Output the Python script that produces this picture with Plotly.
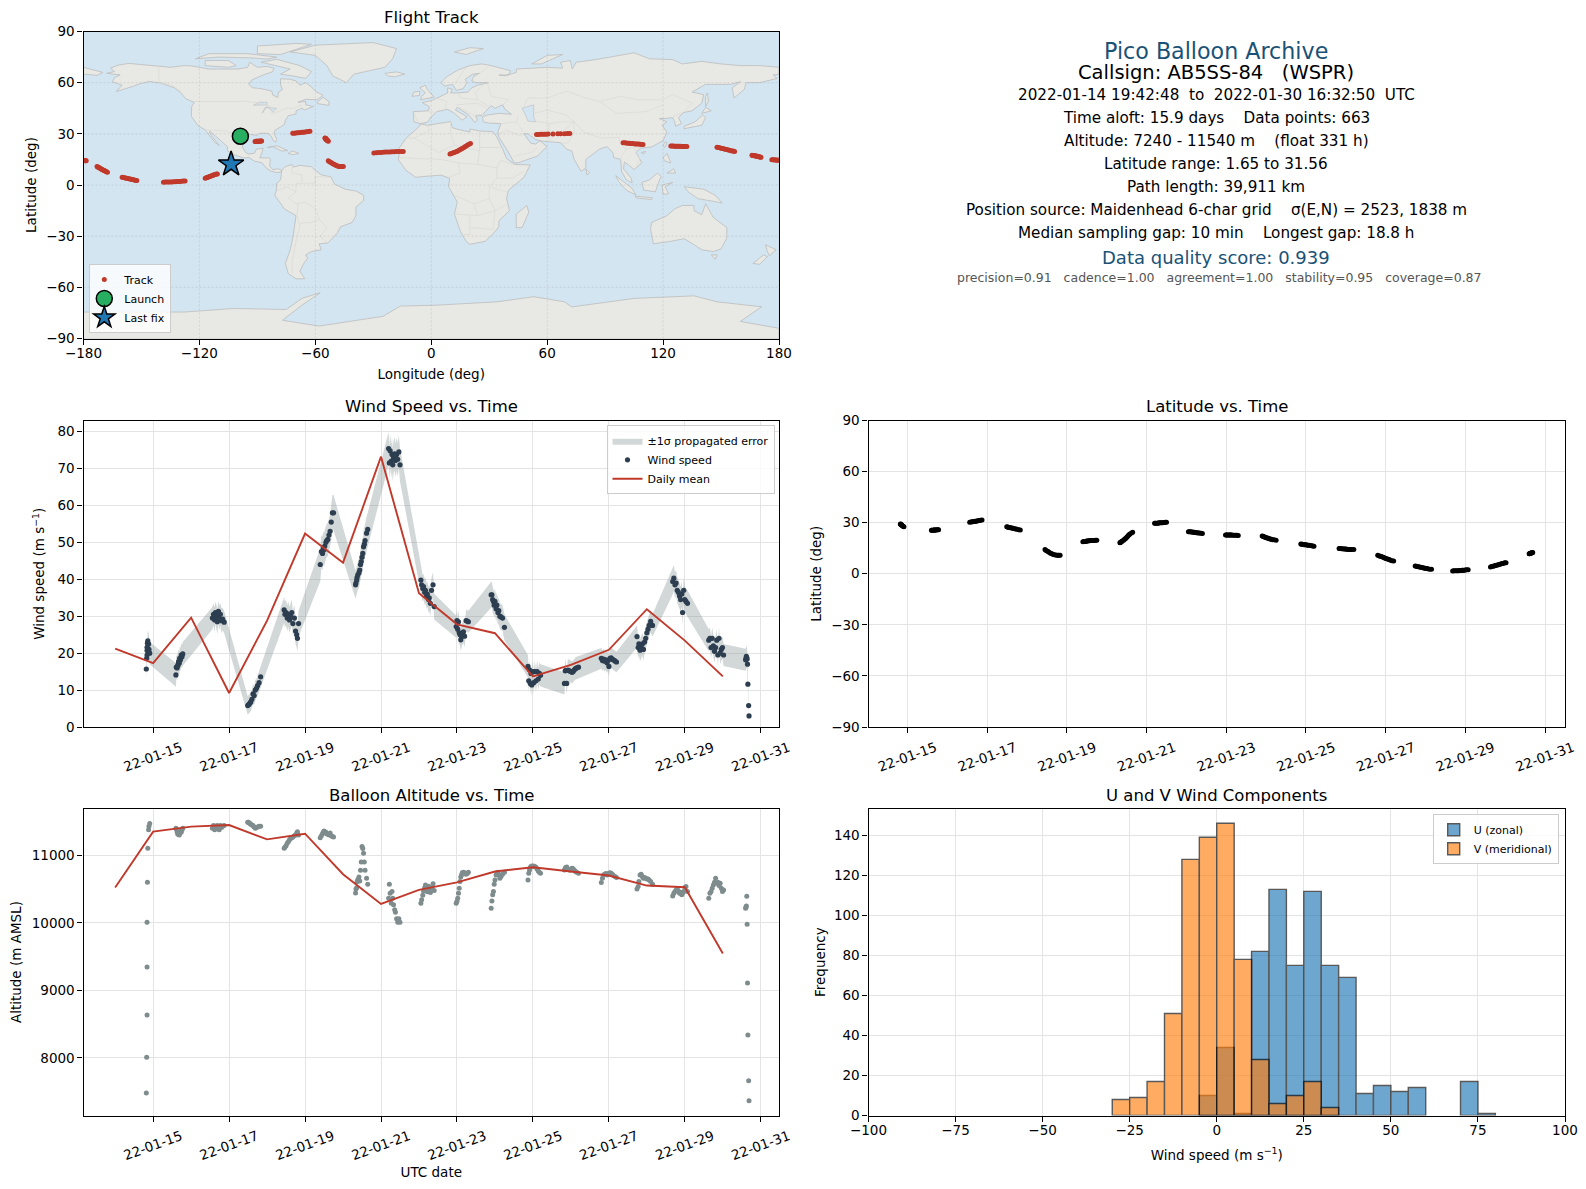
import pandas as pd
import plotly.graph_objects as go

# ---------- flight samples, one line per daily cluster (day of January 2022, decimal) ----------
flight_day = [
    14.82, 14.83, 14.84, 14.84, 14.84, 14.85, 14.86, 14.88, 14.89, 14.91,
    15.60, 15.61, 15.63, 15.65, 15.66, 15.67, 15.69, 15.70, 15.72, 15.74, 15.76, 15.78,
    16.56, 16.59, 16.62, 16.64, 16.67, 16.69, 16.72, 16.74, 16.77, 16.80, 16.83, 16.87,
    17.49, 17.51, 17.53, 17.55, 17.57, 17.60, 17.63, 17.66, 17.69, 17.72, 17.75, 17.79, 17.83,
    18.45, 18.47, 18.50, 18.53, 18.56, 18.59, 18.62, 18.65, 18.68, 18.72, 18.75, 18.78, 18.80, 18.83,
    19.40, 19.43, 19.46, 19.48, 19.50, 19.52, 19.55, 19.57, 19.60, 19.63, 19.66, 19.69, 19.72, 19.75,
    20.33, 20.34, 20.36, 20.37, 20.39, 20.42, 20.44, 20.46, 20.48, 20.50, 20.52, 20.54, 20.56, 20.58, 20.62, 20.65,
    21.20, 21.22, 21.24, 21.27, 21.29, 21.31, 21.33, 21.36, 21.38, 21.41, 21.44, 21.47, 21.50,
    22.05, 22.07, 22.10, 22.12, 22.15, 22.17, 22.20, 22.22, 22.25, 22.27, 22.30, 22.33, 22.37, 22.40,
    22.98, 23.00, 23.02, 23.04, 23.06, 23.08, 23.10, 23.12, 23.14, 23.17, 23.20, 23.24, 23.27, 23.30,
    23.90, 23.92, 23.94, 23.96, 23.98, 24.00, 24.03, 24.05, 24.08, 24.10, 24.13, 24.16, 24.20, 24.25,
    24.87, 24.89, 24.91, 24.93, 24.95, 24.97, 25.00, 25.02, 25.05, 25.08, 25.11, 25.14, 25.17, 25.20,
    25.83, 25.85, 25.86, 25.89, 25.92, 25.95, 25.98, 26.00, 26.03, 26.06, 26.09, 26.12, 26.15, 26.20,
    26.80, 26.83, 26.86, 26.89, 26.92, 26.95, 26.98, 27.00, 27.03, 27.06, 27.09, 27.12, 27.16, 27.20,
    27.74, 27.77, 27.79, 27.82, 27.85, 27.88, 27.91, 27.94, 27.97, 28.00, 28.03, 28.06, 28.10, 28.15,
    28.68, 28.71, 28.74, 28.77, 28.80, 28.83, 28.86, 28.89, 28.92, 28.94, 28.97, 29.00, 29.03, 29.07,
    29.63, 29.66, 29.69, 29.72, 29.75, 29.78, 29.81, 29.84, 29.87, 29.90, 29.93, 29.96, 29.99, 30.02,
    30.60, 30.61, 30.62, 30.63, 30.64, 30.65, 30.66, 30.68, 30.69,
]
wind_speed = [
    15.7, 18.6, 19.5, 20.7, 21.6, 22.7, 23.3, 22.5, 21.0, 20.0,
    14.1, 16.2, 16.0, 16.6, 17.0, 17.7, 17.3, 18.6, 18.2, 19.5, 19.0, 19.8,
    29.5, 30.5, 29.0, 31.0, 30.0, 28.5, 31.3, 29.5, 30.5, 28.8, 29.2, 28.4,
    5.8, 6.0, 6.2, 6.5, 6.8, 7.5, 9.0, 8.5, 10.0, 10.5, 11.2, 12.0, 13.6,
    31.7, 30.5, 31.0, 29.5, 30.5, 29.0, 30.0, 31.0, 28.0, 29.5, 26.0, 25.0, 24.0, 28.0,
    44.0, 47.5, 47.0, 48.5, 48.0, 49.0, 50.0, 50.5, 50.8, 52.0, 53.0, 55.5, 58.0, 58.0,
    38.5, 39.0, 39.8, 40.5, 41.2, 41.8, 42.5, 44.0, 44.8, 46.0, 47.0, 48.8, 49.5, 50.5, 52.5, 53.5,
    75.4, 71.5, 74.8, 72.0, 73.8, 71.0, 73.0, 74.0, 72.2, 73.8, 72.5, 74.5, 71.0,
    39.8, 38.5, 37.5, 38.0, 36.5, 37.0, 35.5, 36.0, 34.5, 35.0, 33.5, 37.0, 38.5, 32.6,
    27.2, 28.8, 26.5, 28.5, 25.5, 25.0, 23.6, 24.5, 25.2, 25.8, 24.6, 28.8, 28.7, 28.5,
    35.8, 35.8, 34.5, 34.0, 33.0, 34.0, 32.0, 33.0, 31.0, 31.5, 30.0, 29.8, 29.5, 27.0,
    16.4, 12.5, 15.5, 11.8, 14.5, 11.4, 15.0, 12.0, 15.0, 12.5, 15.0, 13.0, 14.5, 14.0,
    11.8, 15.2, 15.3, 11.8, 15.4, 15.3, 15.1, 15.0, 14.8, 15.0, 15.5, 15.8, 16.0, 16.2,
    18.6, 18.0, 18.4, 17.8, 18.2, 17.4, 18.0, 16.4, 18.6, 18.7, 18.3, 18.2, 17.9, 17.6,
    24.5, 21.5, 22.5, 20.8, 21.5, 22.5, 21.0, 23.0, 24.0, 25.5, 26.5, 27.5, 28.6, 27.5,
    39.4, 40.3, 38.5, 39.0, 37.0, 36.5, 35.5, 34.5, 36.0, 31.0, 37.0, 34.5, 34.0, 33.5,
    23.5, 24.0, 21.5, 24.0, 22.0, 20.5, 21.5, 23.5, 19.5, 24.0, 20.0, 21.0, 21.5, 19.5,
    18.2, 18.5, 19.1, 18.8, 18.4, 17.0, 11.6, 5.8, 3.0,
]
wind_sigma = [
    3.0, 3.0, 3.0, 3.0, 3.0, 3.0, 3.0, 3.0, 3.0, 3.0,
    3.2, 3.2, 3.2, 3.2, 3.2, 3.2, 3.2, 3.2, 3.2, 3.2, 3.2, 3.2,
    3.0, 3.0, 3.4, 3.0, 3.0, 3.4, 3.0, 3.4, 3.0, 3.4, 3.0, 3.0,
    2.5, 2.5, 2.5, 2.5, 2.5, 2.5, 2.8, 2.5, 2.8, 2.5, 2.8, 2.8, 2.8,
    3.5, 3.5, 3.5, 3.5, 3.5, 3.5, 3.5, 3.5, 3.5, 3.5, 3.5, 3.5, 3.5, 3.5,
    4.5, 4.5, 4.5, 4.5, 4.5, 4.5, 4.5, 4.5, 4.5, 4.5, 4.5, 4.8, 4.8, 4.8,
    3.8, 3.8, 3.8, 3.8, 4.0, 4.0, 4.0, 4.2, 4.2, 4.2, 4.2, 4.4, 4.4, 4.4, 4.5, 4.5,
    4.5, 4.5, 4.5, 4.5, 4.5, 4.5, 4.5, 4.5, 4.5, 4.5, 4.5, 4.5, 4.5,
    3.5, 3.5, 3.5, 3.5, 3.5, 3.5, 3.5, 3.5, 3.5, 3.5, 3.5, 3.5, 3.5, 3.5,
    3.0, 3.0, 3.0, 3.0, 3.0, 3.0, 3.0, 3.0, 3.0, 3.0, 3.0, 3.0, 3.0, 3.0,
    3.5, 3.5, 3.5, 3.5, 3.5, 3.5, 3.5, 3.5, 3.5, 3.5, 3.5, 3.5, 3.5, 3.5,
    3.0, 3.0, 3.0, 3.0, 3.0, 3.0, 3.0, 3.0, 3.0, 3.0, 3.0, 3.0, 3.0, 3.0,
    3.0, 3.0, 3.0, 3.0, 3.0, 3.0, 3.0, 3.0, 3.0, 3.0, 3.0, 3.0, 3.0, 3.0,
    2.8, 2.8, 2.8, 2.8, 2.8, 2.8, 2.8, 2.8, 2.8, 2.8, 2.8, 2.8, 2.8, 2.8,
    3.0, 3.0, 3.0, 3.0, 3.0, 3.0, 3.0, 3.0, 3.0, 3.0, 3.0, 3.0, 3.0, 3.0,
    3.5, 3.5, 3.5, 3.5, 3.5, 3.5, 3.5, 3.5, 3.5, 3.5, 3.5, 3.5, 3.5, 3.5,
    3.0, 3.0, 3.0, 3.0, 3.0, 3.0, 3.0, 3.0, 3.0, 3.0, 3.0, 3.0, 3.0, 3.0,
    3.0, 3.0, 3.0, 3.0, 3.0, 2.8, 2.6, 2.5, 2.4,
]
altitude = [
    7480, 8010, 8635, 9345, 10010, 10600, 11103, 11380, 11430, 11470,
    11400, 11390, 11350, 11310, 11320, 11340, 11300, 11330, 11360, 11340, 11380, 11400,
    11400, 11440, 11380, 11430, 11400, 11440, 11420, 11380, 11440, 11410, 11430, 11440,
    11490, 11490, 11480, 11470, 11460, 11450, 11440, 11420, 11400, 11410, 11420, 11430, 11430,
    11103, 11120, 11140, 11180, 11200, 11230, 11250, 11260, 11270, 11290, 11300, 11330, 11350, 11300,
    11260, 11290, 11320, 11340, 11360, 11350, 11340, 11320, 11310, 11300, 11330, 11290, 11280, 11270,
    10440, 10500, 10520, 10610, 10640, 10680, 10620, 10780, 10900, 11130, 11100, 11030, 10900, 10780, 10660, 10570,
    10365, 10571, 10438, 10290, 10463, 10365, 10266, 10192, 10157, 10059, 10010, 10059, 10010,
    10290, 10340, 10410, 10470, 10520, 10560, 10500, 10460, 10540, 10500, 10450, 10520, 10580, 10480,
    10290, 10320, 10365, 10438, 10512, 10611, 10680, 10709, 10740, 10750, 10740, 10720, 10730, 10750,
    10217, 10325, 10414, 10463, 10571, 10635, 10709, 10734, 10749, 10709, 10660, 10685, 10719, 10749,
    10635, 10734, 10783, 10818, 10833, 10842, 10833, 10842, 10833, 10823, 10798, 10768, 10749, 10734,
    10783, 10800, 10820, 10825, 10800, 10790, 10780, 10790, 10810, 10800, 10780, 10760, 10750, 10735,
    10596, 10660, 10709, 10719, 10729, 10709, 10719, 10734, 10740, 10734, 10719, 10700, 10685, 10670,
    10502, 10537, 10611, 10709, 10719, 10685, 10660, 10670, 10660, 10650, 10650, 10635, 10611, 10571,
    10399, 10438, 10463, 10487, 10502, 10473, 10438, 10453, 10414, 10438, 10463, 10522, 10537, 10463,
    10365, 10438, 10463, 10512, 10561, 10600, 10660, 10586, 10600, 10551, 10586, 10512, 10463, 10487,
    10217, 10235, 10250, 10394, 9980, 9108, 8340, 7660, 7365,
]
latitude = [
    29.2, 29.1, 29.0, 28.9, 28.8, 28.6, 28.4, 28.1, 27.9, 27.6,
    25.5, 25.5, 25.6, 25.6, 25.7, 25.7, 25.7, 25.7, 25.7, 25.8, 25.8, 25.8,
    30.3, 30.4, 30.5, 30.6, 30.7, 30.8, 30.9, 31.0, 31.1, 31.2, 31.4, 31.56,
    27.6, 27.4, 27.3, 27.2, 27.1, 26.9, 26.8, 26.6, 26.4, 26.3, 26.1, 25.9, 25.7,
    14.2, 13.8, 13.4, 13.0, 12.5, 12.1, 11.8, 11.5, 11.2, 11.0, 10.9, 10.8, 10.8, 10.9,
    18.8, 18.9, 19.0, 19.1, 19.2, 19.3, 19.4, 19.4, 19.5, 19.5, 19.6, 19.6, 19.7, 19.7,
    18.2, 18.4, 18.7, 19.0, 19.3, 19.7, 20.1, 20.5, 20.9, 21.4, 21.9, 22.4, 22.9, 23.4, 23.9, 24.3,
    29.6, 29.6, 29.7, 29.7, 29.8, 29.8, 29.9, 29.9, 30.0, 30.0, 30.1, 30.2, 30.2,
    24.7, 24.7, 24.6, 24.5, 24.5, 24.4, 24.3, 24.2, 24.1, 24.1, 24.0, 23.9, 23.8, 23.7,
    22.8, 22.8, 22.8, 22.7, 22.7, 22.7, 22.7, 22.7, 22.7, 22.6, 22.6, 22.6, 22.6, 22.5,
    22.1, 22.0, 21.8, 21.6, 21.4, 21.2, 21.0, 20.8, 20.6, 20.4, 20.2, 20.0, 19.9, 19.7,
    17.4, 17.3, 17.3, 17.2, 17.1, 17.0, 17.0, 16.9, 16.8, 16.7, 16.6, 16.5, 16.3, 16.2,
    14.8, 14.8, 14.8, 14.7, 14.7, 14.6, 14.5, 14.5, 14.4, 14.3, 14.3, 14.2, 14.2, 14.2,
    10.9, 10.6, 10.3, 10.1, 9.8, 9.6, 9.3, 9.0, 8.8, 8.5, 8.3, 8.0, 7.7, 7.5,
    4.5, 4.4, 4.2, 4.1, 3.9, 3.8, 3.6, 3.5, 3.3, 3.2, 3.1, 2.9, 2.7, 2.6,
    1.65, 1.7, 1.7, 1.7, 1.8, 1.8, 1.9, 1.9, 2.0, 2.1, 2.1, 2.2, 2.3, 2.4,
    4.0, 4.2, 4.4, 4.6, 4.8, 5.0, 5.2, 5.4, 5.6, 5.8, 6.0, 6.2, 6.4, 6.5,
    11.7, 11.8, 11.9, 12.0, 12.1, 12.2, 12.3, 12.4, 12.5,
]
longitude = [
    -98.8, -98.5, -98.2, -97.9, -97.6, -97.3, -97.0, -96.7, -96.4, -96.0,
    -91.2, -90.9, -90.6, -90.3, -90.0, -89.7, -89.4, -89.1, -88.8, -88.5, -88.1, -87.8,
    -71.7, -70.9, -70.1, -69.3, -68.5, -67.7, -66.9, -66.1, -65.3, -64.5, -63.6, -62.8,
    -55.0, -54.9, -54.8, -54.6, -54.5, -54.4, -54.3, -54.2, -54.1, -53.9, -53.7, -53.5, -53.3,
    -53.3, -52.8, -52.2, -51.6, -51.0, -50.4, -49.8, -49.2, -48.6, -48.0, -47.4, -46.8, -46.2, -45.5,
    -29.7, -28.5, -27.3, -26.1, -24.9, -23.8, -22.6, -21.4, -20.3, -19.1, -18.0, -16.8, -15.6, -14.5,
    9.7, 10.4, 11.1, 11.8, 12.5, 13.2, 13.9, 14.6, 15.3, 16.0, 16.7, 17.4, 18.1, 18.8, 19.6, 20.3,
    54.5, 55.5, 56.5, 57.5, 58.5, 59.5, 60.5, 63.0, 65.5, 67.0, 69.0, 70.5, 71.7,
    99.3, 100.1, 100.9, 101.7, 102.5, 103.3, 104.1, 104.9, 105.7, 106.5, 107.3, 108.1, 108.9, 109.6,
    124.0, 124.6, 125.3, 125.9, 126.5, 127.2, 127.8, 128.4, 129.1, 129.7, 130.3, 131.0, 131.6, 132.3,
    147.9, 148.6, 149.3, 150.0, 150.7, 151.4, 152.1, 152.8, 153.5, 154.2, 154.9, 155.6, 156.3, 157.0,
    166.0, 166.4, 166.7, 167.1, 167.4, 167.8, 168.2, 168.5, 168.9, 169.2, 169.6, 169.9, 170.3, 170.7,
    176.3, 176.8, 177.3, 177.8, 178.3, 178.8, 179.3, 179.8, -179.8, -179.5, -179.3, -179.1, -178.9, -178.6,
    -173.0, -172.6, -172.2, -171.8, -171.4, -171.0, -170.6, -170.2, -169.8, -169.4, -169.0, -168.6, -168.1, -167.6,
    -160.0, -159.4, -158.8, -158.3, -157.7, -157.1, -156.5, -155.9, -155.3, -154.8, -154.2, -153.6, -153.0, -152.4,
    -138.6, -137.7, -136.9, -136.0, -135.2, -134.3, -133.5, -132.6, -131.8, -130.9, -130.1, -129.2, -128.3, -127.4,
    -117.0, -116.5, -116.0, -115.6, -115.1, -114.6, -114.2, -113.7, -113.2, -112.8, -112.3, -111.8, -111.3, -110.7,
    -104.2, -104.1, -104.0, -103.9, -103.8, -103.8, -103.7, -103.7, -103.6,
]
launch_lon, launch_lat = [-98.8], [28.6]
last_lon, last_lat = [-103.6], [12.2]

# daily means
mean_day = [14, 15, 16, 17, 18, 19, 20, 21, 22, 23, 24, 25, 26, 27, 28, 29, 30]
mean_wind = [21.2, 17.3, 29.6, 9.2, 28.8, 52.4, 44.5, 73.2, 36.2, 27.8, 25.4, 13.7, 16.8, 20.9, 31.9, 23.4, 13.7]
mean_alt = [10522, 11350, 11424, 11448, 11236, 11320, 10720, 10280, 10488, 10600, 10760, 10823, 10760, 10700, 10552, 10527, 9547]

# histogram, 5 m/s bins (None where a bin is empty)
hist_left = [-30, -25, -20, -15, -10, -5, 0, 5, 10, 15, 20, 25, 30, 35, 40, 45, 50, 55, 60, 65, 70, 75]
u_counts = [None, None, None, None, None, 10, 34, 1, 82, 113, 75, 112, 75, 69, 11, 15, 12, 14, None, None, 17, 1]
v_counts = [8, 9, 17, 51, 128, 139, 146, 78, 28, 6, 10, 17, 4, None, None, None, None, None, None, None, None, None]

# ---------- simplified coastlines (lon, lat) ----------
north_america = [(-168, 65.5), (-164, 66.5), (-166, 68.5), (-162, 70.3), (-156.5, 71.3), (-150, 70.5), (-141, 69.7), (-135, 69), (-128, 70), (-124, 69.8), (-115, 68), (-108, 68), (-100, 68), (-95, 69), (-94, 72), (-90, 69), (-85, 69.5), (-81.5, 68.5), (-82, 66.5), (-87, 64.5), (-93, 61.5), (-94.5, 59), (-92.5, 57), (-88, 56.5), (-82.5, 55), (-82, 52.7), (-79.5, 51.3), (-79, 54.5), (-77, 56), (-78, 58.5), (-78, 62.3), (-73, 62), (-70, 61), (-68, 58.5), (-65, 60), (-62, 57.5), (-60, 55), (-56, 52.5), (-59, 50), (-65, 50.2), (-69, 48.5), (-65, 49), (-65, 47), (-61, 46), (-65.5, 44), (-67, 45), (-70, 43.5), (-70, 41.7), (-74, 40.6), (-75.5, 38), (-76, 35.5), (-78, 34), (-81, 32), (-81.3, 30), (-80, 26.8), (-80.5, 25.2), (-81.8, 26), (-82.8, 28.5), (-84, 30), (-86, 30.4), (-89, 30.2), (-90, 29.2), (-94, 29.6), (-97.2, 27.5), (-97.5, 24), (-97.8, 22.3), (-96, 19), (-94.5, 18.2), (-91.5, 18.6), (-90.5, 21), (-87, 21.5), (-87.8, 18.3), (-88.8, 15.9), (-84, 15.9), (-83.3, 15), (-83.6, 11), (-82, 9), (-79.5, 9.5), (-77.4, 8.7), (-78, 7.5), (-80, 7.3), (-83, 8.2), (-85.5, 10), (-87.5, 13), (-91.5, 14), (-94.5, 16.2), (-97, 15.8), (-101.5, 17.5), (-105.5, 20), (-105.5, 22.5), (-109, 26), (-112.5, 29.5), (-114.7, 31.7), (-114.5, 30), (-111, 25), (-109.5, 23), (-112, 25), (-115, 29), (-117.2, 32.5), (-120.5, 34.5), (-122.5, 37.7), (-124.2, 40.3), (-124, 46), (-122.7, 48.5), (-127, 50.5), (-130, 54.5), (-133, 57), (-137, 58.5), (-140, 59.8), (-146, 60.7), (-151, 59.3), (-154, 58), (-158, 56.5), (-163, 54.8), (-160, 58.5), (-165, 60.5), (-164, 63), (-161, 64.5)]
south_america = [(-77.4, 8.7), (-75.5, 10.8), (-72, 12), (-71.5, 10.5), (-68, 11.5), (-62, 10.7), (-60, 8.5), (-57, 6), (-52, 4.8), (-50, 0.5), (-44.5, -2.5), (-39, -3.5), (-35, -6), (-35, -9), (-39, -13), (-39, -18), (-41, -22), (-47, -24.5), (-48.5, -28), (-53.5, -34), (-58, -34.5), (-57, -38), (-62, -39), (-65, -41), (-64, -43), (-66, -46), (-68, -50.5), (-65.5, -55), (-70, -55), (-74, -52), (-75.5, -46), (-73, -38), (-71.5, -30), (-70, -18), (-76, -14), (-81, -6), (-80, -2.5), (-80, 1), (-78, 3), (-77.5, 7)]
africa = [(-5.5, 35.8), (-2, 35), (10, 37.2), (11, 33.5), (15, 32.3), (20, 31), (20, 32.8), (25, 31.7), (32, 31.2), (34, 28), (37, 21), (39, 15.5), (43.3, 12), (51.2, 11.8), (48, 4.5), (40, -3), (39, -8), (40.5, -15), (35, -21), (35, -24.5), (32.5, -28), (28, -33), (20, -34.8), (18, -33), (15, -27), (12, -17), (13.5, -10), (9, -1), (9.5, 4), (5, 5.8), (-4, 5), (-8, 4.5), (-13, 8.5), (-17, 14.7), (-16.5, 19), (-17, 21), (-13, 27.5), (-9.5, 31), (-6.5, 34)]
eurasia = [(-9, 37), (-9.3, 43), (-1.5, 43.5), (-1, 46), (-4.7, 48.3), (0, 49.5), (4, 51.5), (8.5, 54), (8.5, 57), (11, 56), (10, 54), (14, 54), (19, 54.5), (21, 57), (24, 58.5), (29.5, 60), (23, 60), (21, 61), (22, 64), (25, 65.5), (21.5, 65), (17.5, 62), (18.5, 60), (16.5, 56.5), (13, 55.5), (11, 59), (7, 58), (5, 60), (8, 63.5), (14, 67.5), (20, 70), (26, 71), (31, 70), (41, 67), (40, 64.5), (35, 64.5), (38, 64), (44, 66), (44, 68), (54, 68.5), (60, 69), (68, 68.5), (67, 72), (72, 73), (73, 68), (75, 72), (85, 73.5), (100, 76.5), (105, 77.5), (113, 74), (125, 73.5), (130, 71), (140, 72.5), (150, 71), (160, 70), (170, 70), (180, 69), (180, 65), (177, 64.5), (179, 62.5), (170, 60), (163, 60), (162, 56), (156.7, 51), (155.8, 57), (160, 60.5), (155, 59), (142, 59), (135, 54.5), (141, 53), (140, 48), (135, 43.5), (130.5, 42.5), (128, 39.5), (129.5, 36), (126.5, 34.5), (126, 37), (125, 39.5), (121.5, 39), (118, 39), (122, 37), (119.5, 35), (122, 31), (120, 26), (114, 22.3), (108, 21.5), (106, 19), (109, 13), (105, 9), (103, 11), (100, 13.5), (99.5, 9.5), (103.5, 4), (104, 1.3), (101, 3), (98.5, 8), (98, 15), (94.5, 16), (94, 19), (91, 22.5), (87, 21), (80, 15), (80, 10), (77.5, 8), (74, 15), (72.7, 20), (70, 21), (67, 24.8), (61, 25.2), (57, 25.8), (54, 26.7), (50, 30), (48, 30), (50, 26.5), (51.5, 24.5), (54, 24), (56.3, 26), (59.8, 22.5), (55, 17), (45, 13), (43, 13), (39, 21), (35, 28), (34.5, 31), (36, 36), (30, 36.3), (27, 37), (26.5, 40), (29, 41), (35, 42), (41.5, 41.5), (38, 44.5), (37, 47), (33, 45), (31, 46.5), (28, 43), (26, 40.7), (23, 40.5), (24, 38), (22.5, 36.7), (19.5, 41), (13.5, 45.5), (12.5, 44), (18.5, 40), (16, 38), (12, 42), (8.5, 44.4), (3, 43), (0, 40), (-2, 36.8), (-5.5, 36)]
chukotka = [(-180, 69), (-175, 67.5), (-170, 66), (-173, 64.3), (-180, 65)]
greenland = [(-73, 78), (-60, 76), (-54, 70), (-51, 64), (-44, 60), (-40, 65), (-24, 69), (-20, 74), (-18, 80), (-30, 83.5), (-60, 82)]
antarctica = [(-180, -90), (180, -90), (180, -84), (160, -80), (171, -71.4), (148, -68.5), (136, -65), (105, -66.5), (72.6, -71.5), (69, -68.5), (53, -65.5), (34, -68.5), (2, -70.5), (-16, -71), (-25, -77), (-58, -82.7), (-77, -79.3), (-67, -70.5), (-57.5, -63.2), (-67, -66.5), (-75, -73), (-102, -72.4), (-128, -74.5), (-180, -74.5)]
islands = [
    [(-80, 73.7), (-72, 71.5), (-68, 70), (-62, 66.5), (-65, 62.5), (-72, 64), (-78, 65), (-73, 68), (-80, 70), (-88, 72)],
    [(-117, 70), (-105, 69), (-101, 70), (-105, 73), (-117, 73)],
    [(-90, 77), (-78, 76.5), (-62, 82.5), (-70, 83), (-90, 81.5)],
    [(-122, 74), (-110, 75), (-92, 74.5), (-85, 73.8), (-80, 75), (-95, 77), (-115, 77)],
    [(-59, 47.7), (-53, 46.7), (-53, 49), (-56, 51.5), (-59, 48.5)],
    [(-24, 65.5), (-18, 66.3), (-13.7, 65), (-19, 63.4), (-22.7, 64)],
    [(-84.8, 22), (-80, 23), (-74.2, 20.2), (-77.5, 19.9), (-82, 22.5)],
    [(-74, 18.5), (-72, 20), (-68.5, 18.5), (-71.5, 17.8)],
    [(-5.5, 50), (1.5, 51.5), (-2, 56), (-3, 58.5), (-6, 57), (-3, 54), (-5, 52)],
    [(-10, 52), (-6, 52.5), (-6, 55), (-9, 54.5)],
    [(12, 78), (20, 80.5), (27, 80), (18, 76.5)],
    [(52, 71), (57, 71), (68, 76.5), (60, 76)],
    [(130.8, 33), (136, 34), (140, 35), (142, 39.5), (140.5, 41), (136.5, 37), (131, 34.5)],
    [(140, 42), (145, 43.5), (142, 45.5)],
    [(142, 46), (143.5, 49), (143, 54), (142, 52)],
    [(120, 23), (121, 22), (122, 25), (121, 25.3)],
    [(108.7, 19), (111, 19.7), (110, 18.2)],
    [(120, 16), (122, 18.5), (124, 13), (121, 14)],
    [(122, 7), (126.5, 7), (125.5, 9.5), (123, 8)],
    [(109, 1.5), (113, 3), (117, 7), (119, 5), (117.5, 1), (116, -4), (110, -3)],
    [(95.5, 5.5), (104, -2), (106, -6), (101, -3), (97, 2)],
    [(105.5, -6.5), (114.5, -7.5), (114, -8.6), (106, -7.5)],
    [(119.5, 0), (125, 1.5), (121, -1), (123, -5), (120, -5.5)],
    [(131, -1), (141, -2.5), (147, -6), (150.5, -10.5), (143, -9), (138, -8), (133, -4)],
    [(114, -22), (122, -18), (126, -14), (130, -12), (136, -12), (136, -15), (140, -17.5), (142, -11), (146, -19), (153, -25), (153, -31), (150, -37.5), (146, -39), (140, -38), (136, -35), (131, -31.5), (124, -33), (115, -34.5), (113.5, -26)],
    [(145, -41), (148, -41), (147, -43.5)],
    [(173, -35), (178.5, -38), (175, -41.5), (174, -39)],
    [(172, -41), (174, -42), (170, -46.5), (166.5, -46)],
    [(49.5, -12), (50.5, -16), (47, -25), (44, -25), (44, -17)],
    [(80, 9.5), (82, 7), (80.5, 6)],
]
lakes = [
    [(47, 45), (53, 47), (53, 40), (54, 37), (50, 37.5), (49, 40.5)],
    [(-92, 46.8), (-85, 47), (-85, 48.5), (-89, 48.5)],
    [(-87.5, 42), (-86, 45.5), (-80, 45), (-82, 43), (-85, 46)],
]
borders = [
    [(-123, 49), (-95, 49), (-89, 48), (-83, 46), (-82.5, 42), (-79, 43), (-75, 45), (-71, 45), (-67.5, 47), (-67, 45)],
    [(-141, 70), (-141, 60), (-135, 59), (-130, 55)],
    [(-117, 32.5), (-108, 31.5), (-106, 31.7), (-101, 29.5), (-97.3, 26)],
    [(-52, 4.5), (-60, 5), (-60, 1), (-70, 1), (-70, -4), (-74, -7.5), (-70, -11), (-65, -10), (-60, -14), (-58, -20), (-54, -25), (-57.5, -30), (-53.5, -34)],
    [(-69.5, -18), (-68, -24), (-70, -33), (-72, -45), (-72, -52)],
    [(-69, -11), (-69.5, -18)], [(-68, -22.5), (-62, -22), (-58, -20)],
    [(-80, -3.5), (-75, -1), (-70, -4)], [(-72, 12), (-72, 7), (-67, 6), (-67, 1.5)],
    [(-13, 27.5), (-8.7, 27.5), (-1, 32), (-2, 35)], [(-8.7, 27.5), (4, 19), (12, 23.5), (10, 30), (10, 37)],
    [(12, 23.5), (25, 20), (25, 31.5)], [(25, 22), (37, 22)], [(25, 20), (24, 12), (34, 10), (36, 14.5), (43, 12)],
    [(-16.5, 16), (5, 15), (14, 13), (24, 12)], [(14, 13), (15, 7), (9, 4.5)], [(34, 10), (34, 4), (42, 4), (48, 8)],
    [(34, 4), (30, -1), (40, -4.5)], [(30, -1), (30, -8), (22, -11), (12, -6)], [(22, -11), (24, -18), (12, -17)],
    [(24, -18), (33, -15), (40, -11)], [(30, -8), (33, -15)], [(20, -18), (20, -29), (17, -29)], [(20, -25), (32, -26)], [(33, -15), (32, -26)],
    [(-1.5, 43), (3, 42.5)], [(-9, 42), (-7, 37.5)], [(2.5, 51), (8, 49), (7, 44)], [(14, 54), (15, 51), (24, 50), (30, 46)],
    [(24, 50), (23, 54), (28, 60)], [(13, 47), (24, 48), (29, 45)], [(28, 41.5), (22, 41), (13.5, 46)], [(12, 59), (18, 69)], [(21, 62), (29, 69)], [(29, 60), (31, 52), (40, 50), (37, 47)],
    [(48, 46), (50, 51), (60, 51), (70, 55), (80, 51), (87, 49)], [(87, 49), (98, 52), (107, 50), (120, 50), (125, 53), (135, 48), (131, 43)], [(87, 49), (96, 42), (111, 43), (120, 47)],
    [(74, 37), (79, 31), (88, 27.5), (97, 28), (98, 24), (101, 21), (106, 22.5), (108, 21.5)], [(61, 25), (61, 30), (61, 36), (54, 37.5)], [(61, 30), (66, 30), (71, 34), (74, 37), (67, 37), (61, 36)],
    [(68, 24), (71, 25), (74, 31), (74, 37)], [(36, 36), (44, 37), (45, 40)], [(48, 30), (46, 34), (44, 37)], [(34.5, 29.5), (39, 32), (46, 29), (48, 30)],
    [(43, 17), (52, 19), (55, 22)], [(53, 42), (60, 44), (70, 41), (74, 37)], [(101, 21), (98, 16), (99, 11)], [(105, 22), (108, 15), (106, 11)], [(125, 40), (130, 42.5)],
]
continents = [north_america, south_america, africa, eurasia, chukotka, greenland, antarctica]

# ---------- text ----------
info_lines = [
    "Pico Balloon Archive",
    "Callsign: AB5SS-84 \u00a0 (WSPR)",
    "2022-01-14 19:42:48 \u00a0to\u00a0 2022-01-30 16:32:50 \u00a0UTC",
    "Time aloft: 15.9 days \u00a0 \u00a0Data points: 663",
    "Altitude: 7240 - 11540 m \u00a0 \u00a0(float 331 h)",
    "Latitude range: 1.65 to 31.56",
    "Path length: 39,911 km",
    "Position source: Maidenhead 6-char grid \u00a0 \u00a0\u03c3(E,N) = 2523, 1838 m",
    "Median sampling gap: 10 min \u00a0 \u00a0Longest gap: 18.8 h",
    "Data quality score: 0.939",
    "precision=0.91 \u00a0 cadence=1.00 \u00a0 agreement=1.00 \u00a0 stability=0.95 \u00a0 coverage=0.87",
]
info_x = [1216, 1216, 1216, 1216, 1216, 1216, 1216, 1216, 1216, 1216, 1219.5]
info_y = [50.6, 72.8, 95, 118, 141, 164, 187.5, 210, 233.5, 257, 277.5]
info_size = [22.2, 19.5, 15.2, 15.2, 15.2, 15.2, 15.2, 15.2, 15.2, 18, 12.5]
info_color = ["#1a5276", "black", "black", "black", "black", "black", "black", "black", "black", "#1a5276", "#555555"]

RED = "#c0392b"
NAVY = "#2c3e50"
SLATE = "#7f8c8d"
FONT = "DejaVu Sans"
GRID = "rgb(228,228,228)"

# page is drawn inside the 8px default body margin
FIG_W, FIG_H = 1570, 1173


def px_x(px):
    return (px - 8) / FIG_W


def px_y(py):
    return 1 - (py - 8) / FIG_H


def to_time(days):
    return pd.Timestamp("2022-01-01") + pd.to_timedelta([d - 1 for d in days], unit="D")


def polygons(shapes):
    xs, ys = [], []
    for shape in shapes:
        xs += [p[0] for p in shape] + [shape[0][0], None]
        ys += [p[1] for p in shape] + [shape[0][1], None]
    return xs, ys


def polylines(lines):
    xs, ys = [], []
    for line in lines:
        xs += [p[0] for p in line] + [None]
        ys += [p[1] for p in line] + [None]
    return xs, ys


t = to_time(flight_day)
t_mean = to_time(mean_day)
wind_upper = [w + s for w, s in zip(wind_speed, wind_sigma)]
wind_lower = [w - s for w, s in zip(wind_speed, wind_sigma)]

fig = go.Figure()

# ---------- flight track ----------
land_x, land_y = polygons(continents + islands)
fig.add_trace(go.Scatter(x=land_x, y=land_y, mode="lines", fill="toself", fillcolor="#e8e8e4",
                         line=dict(color="#bdbdbd", width=0.8), hoverinfo="skip", showlegend=False,
                         xaxis="x", yaxis="y"))
lake_x, lake_y = polygons(lakes)
fig.add_trace(go.Scatter(x=lake_x, y=lake_y, mode="lines", fill="toself", fillcolor="#d3e5f1",
                         line=dict(color="#bdbdbd", width=0.6), hoverinfo="skip", showlegend=False,
                         xaxis="x", yaxis="y"))
border_x, border_y = polylines(borders)
fig.add_trace(go.Scatter(x=border_x, y=border_y, mode="lines",
                         line=dict(color="#dadad5", width=0.7), hoverinfo="skip", showlegend=False,
                         xaxis="x", yaxis="y"))
lon_ticks = [-180, -120, -60, 0, 60, 120, 180]
lat_ticks = [-90, -60, -30, 0, 30, 60, 90]
grid_x, grid_y = polylines([[(v, -90), (v, 90)] for v in lon_ticks] + [[(-180, v), (180, v)] for v in lat_ticks])
fig.add_trace(go.Scatter(x=grid_x, y=grid_y, mode="lines",
                         line=dict(color="rgba(120,120,120,0.3)", width=0.6, dash="2px,2px"), hoverinfo="skip",
                         showlegend=False, xaxis="x", yaxis="y"))
fig.add_trace(go.Scatter(x=longitude, y=latitude, mode="markers", name="Track",
                         marker=dict(color=RED, size=5), xaxis="x", yaxis="y", legend="legend"))
fig.add_trace(go.Scatter(x=launch_lon, y=launch_lat, mode="markers", name="Launch",
                         marker=dict(color="#27ae60", size=16, line=dict(color="black", width=1.5)),
                         xaxis="x", yaxis="y", legend="legend"))
fig.add_trace(go.Scatter(x=last_lon, y=last_lat, mode="markers", name="Last fix",
                         marker=dict(color="#1f77b4", size=19, symbol="star", line=dict(color="black", width=1.5)),
                         xaxis="x", yaxis="y", legend="legend"))

# ---------- wind speed ----------
fig.add_trace(go.Scatter(x=list(t) + list(t[::-1]), y=wind_upper + wind_lower[::-1], mode="lines", fill="toself",
                         fillcolor="rgba(127,140,141,0.35)", line=dict(width=0), name="\u00b11\u03c3 propagated error",
                         xaxis="x2", yaxis="y2", legend="legend2"))
fig.add_trace(go.Scatter(x=t, y=wind_speed, mode="markers", name="Wind speed",
                         marker=dict(color=NAVY, size=5.2), xaxis="x2", yaxis="y2", legend="legend2"))
fig.add_trace(go.Scatter(x=t_mean, y=mean_wind, mode="lines", name="Daily mean",
                         line=dict(color=RED, width=1.9), xaxis="x2", yaxis="y2", legend="legend2"))

# ---------- latitude ----------
fig.add_trace(go.Scatter(x=t, y=latitude, mode="markers", marker=dict(color="black", size=5),
                         showlegend=False, xaxis="x3", yaxis="y3"))

# ---------- altitude ----------
fig.add_trace(go.Scatter(x=t, y=altitude, mode="markers", marker=dict(color=SLATE, size=5),
                         showlegend=False, xaxis="x4", yaxis="y4"))
fig.add_trace(go.Scatter(x=t_mean, y=mean_alt, mode="lines", line=dict(color=RED, width=1.9),
                         showlegend=False, xaxis="x4", yaxis="y4"))

# ---------- U / V histogram ----------
hist_mid = [v + 2.5 for v in hist_left]
fig.add_trace(go.Bar(x=hist_mid, y=u_counts, width=5, name="U (zonal)", opacity=0.65,
                     marker=dict(color="#1f77b4", line=dict(color="black", width=1.4)),
                     xaxis="x5", yaxis="y5", legend="legend3"))
fig.add_trace(go.Bar(x=hist_mid, y=v_counts, width=5, name="V (meridional)", opacity=0.65,
                     marker=dict(color="#ff7f0e", line=dict(color="black", width=1.4)),
                     xaxis="x5", yaxis="y5", legend="legend3"))


def axis_style(**kw):
    style = dict(showline=True, mirror=True, linecolor="black", linewidth=1.2, ticks="outside", ticklen=5,
                 tickwidth=1.1, tickcolor="black", zeroline=False, showgrid=True, gridcolor=GRID, gridwidth=1,
                 automargin=False, tickfont=dict(size=13.5, color="black"),
                 title_font=dict(size=13.5, color="black"))
    style.update(kw)
    return style


def time_axis(left, right, rng, anchor, title=None):
    # labels sit centred under their tick, as in the source figure
    return axis_style(domain=[px_x(left), px_x(right)], anchor=anchor, type="date", range=rng,
                      tick0="2022-01-15", dtick=2 * 86400000, tickformat="%y-%m-%d", tickangle=-20,
                      ticklabelshift=28, ticklabelstandoff=2,
                      title=dict(text=title, standoff=5) if title else None)


LEFT = (83.5, 779)
RIGHT = (868.5, 1565)
TOP = (31.5, 338.5)
MID = (420.5, 727)
LOW = (808.7, 1115.5)
range_a = ["2022-01-13 04:00", "2022-01-31 11:30"]
range_b = ["2022-01-14 00:30", "2022-01-31 12:00"]

fig.update_layout(
    width=FIG_W, height=FIG_H, margin=dict(l=0, r=0, t=0, b=0),
    paper_bgcolor="white", plot_bgcolor="white", barmode="overlay",
    font=dict(family=FONT, size=13.5, color="black"), hovermode=False,
    xaxis=axis_style(domain=[px_x(LEFT[0]), px_x(LEFT[1])], anchor="y", range=[-180, 180], tickvals=lon_ticks,
                     showgrid=False, ticklabelstandoff=-3, title=dict(text="Longitude (deg)", standoff=9)),
    yaxis=axis_style(domain=[px_y(TOP[1]), px_y(TOP[0])], anchor="x", range=[-90, 90], tickvals=lat_ticks,
                     showgrid=False, title=dict(text="Latitude (deg)", standoff=6)),
    xaxis2=time_axis(LEFT[0], LEFT[1], range_a, "y2"),
    yaxis2=axis_style(domain=[px_y(MID[1]), px_y(MID[0])], anchor="x2", range=[0, 83], dtick=10,
                      title=dict(text="Wind speed (m s<sup>\u22121</sup>)", standoff=9)),
    xaxis3=time_axis(RIGHT[0], RIGHT[1], range_b, "y3"),
    yaxis3=axis_style(domain=[px_y(MID[1]), px_y(MID[0])], anchor="x3", range=[-90, 90], tickvals=lat_ticks,
                      title=dict(text="Latitude (deg)", standoff=6)),
    xaxis4=time_axis(LEFT[0], LEFT[1], range_a, "y4", "UTC date"),
    yaxis4=axis_style(domain=[px_y(LOW[1]), px_y(LOW[0])], anchor="x4", range=[7147, 11690],
                      tickvals=[8000, 9000, 10000, 11000], tickformat="d",
                      title=dict(text="Altitude (m AMSL)", standoff=9)),
    xaxis5=axis_style(domain=[px_x(RIGHT[0]), px_x(RIGHT[1])], anchor="y5", range=[-100, 100], dtick=25,
                      ticklabelstandoff=-3, title=dict(text="Wind speed (m s<sup>\u22121</sup>)", standoff=13)),
    yaxis5=axis_style(domain=[px_y(LOW[1]), px_y(LOW[0])], anchor="x5", range=[0, 153.3], dtick=20,
                      title=dict(text="Frequency", standoff=5)),
    legend=dict(x=px_x(89.3), y=px_y(333), xanchor="left", yanchor="bottom", bgcolor="rgba(255,255,255,0.8)",
                bordercolor="#cccccc", borderwidth=1, font=dict(size=11), indentation=-6),
    legend2=dict(x=px_x(774.5), y=px_y(425.3), xanchor="right", yanchor="top", bgcolor="rgba(255,255,255,0.8)",
                 bordercolor="#cccccc", borderwidth=1, font=dict(size=11)),
    legend3=dict(x=px_x(1558.7), y=px_y(814.3), xanchor="right", yanchor="top", bgcolor="rgba(255,255,255,0.8)",
                 bordercolor="#cccccc", borderwidth=1, font=dict(size=11)),
)

# map background
fig.add_shape(type="rect", xref="x", yref="y", x0=-180, x1=180, y0=-90, y1=90, fillcolor="#d3e5f1",
              line=dict(width=0), layer="below")

# panel titles
panel_titles = ["Flight Track", "Wind Speed vs. Time", "Latitude vs. Time", "Balloon Altitude vs. Time", "U and V Wind Components"]
title_x = [431.2, 431.2, 1216.7, 431.2, 1216.7]
title_y = [18, 406.5, 406.5, 795, 795]
for text, x, y in zip(panel_titles, title_x, title_y):
    fig.add_annotation(text=text, x=px_x(x), y=px_y(y), xref="paper", yref="paper", xanchor="center",
                       yanchor="middle", showarrow=False, font=dict(size=16.5, color="black"))

# summary text block
for text, x, y, size, color in zip(info_lines, info_x, info_y, info_size, info_color):
    fig.add_annotation(text=text, x=px_x(x), y=px_y(y), xref="paper", yref="paper", xanchor="center",
                       yanchor="middle", showarrow=False, font=dict(size=size, color=color))

fig.write_html("out.html")
